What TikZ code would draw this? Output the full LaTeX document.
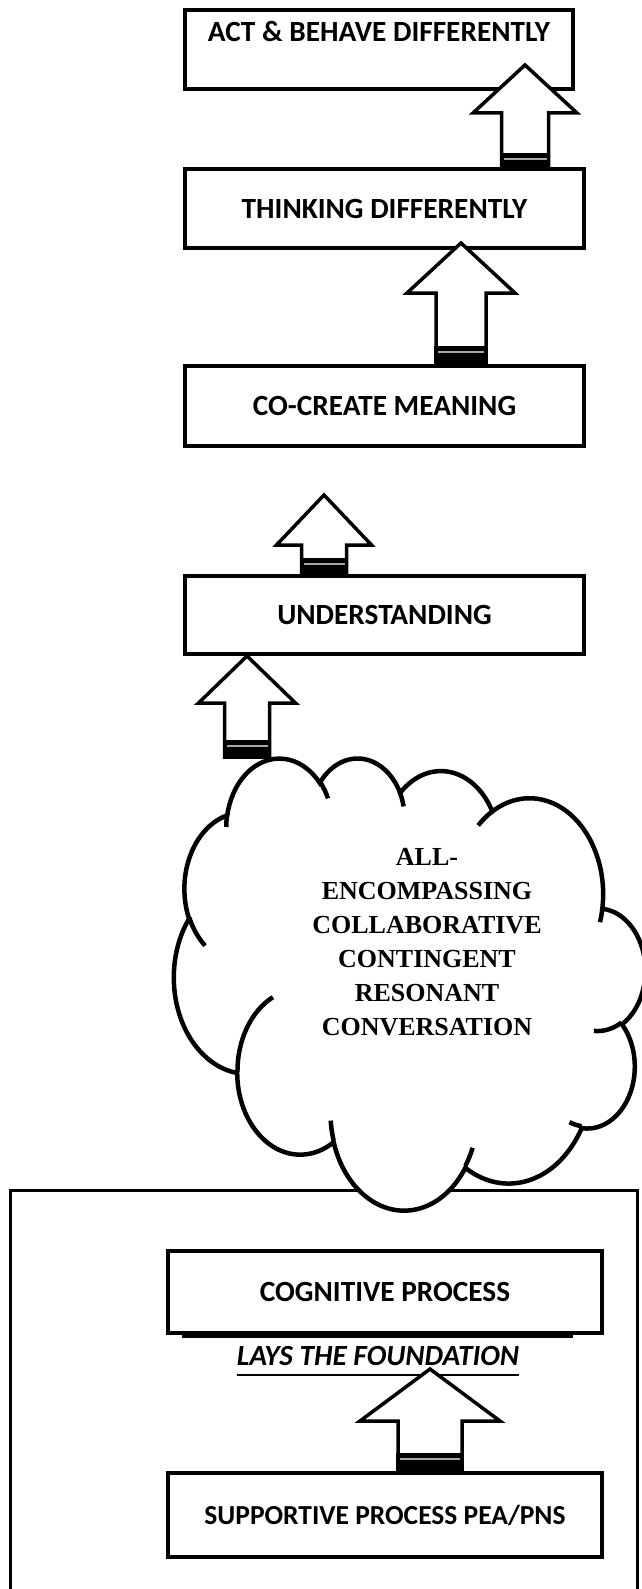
\documentclass[tikz,border=0pt]{standalone}
\usepackage{fontspec}
\usetikzlibrary{calc}
\newfontfamily\labelfont{Carlito}
\newfontfamily\cloudfont{Liberation Serif}

\tikzset{
  ink/.style={line width=3.5pt, line join=miter},
  stagebox/.style={draw, line width=3.2pt, fill=white, inner sep=0pt},
  stagetext/.style={font=\labelfont\bfseries\fontsize{29.3}{35}\selectfont, inner sep=0pt},
  smalltext/.style={font=\labelfont\bfseries\fontsize{27.5}{33}\selectfont, inner sep=0pt},
  cloudline/.style={line width=4.5pt, line cap=butt},
}

% one elliptical arc: radii, start angle and sweep given as angles seen from the centre
\newcommand\cloudarc[4]{let \n1={atan2((#1)*sin(#3),(#2)*cos(#3))},
  \n2={atan2((#1)*sin((#3)+(#4)),(#2)*cos((#3)+(#4)))},
  \n3={(\n2)-(\n1)-360*round(((\n2)-(\n1)-(#4))/360)}
  in arc[start angle=\n1, delta angle=\n3, x radius=#1, y radius=#2]}

% hollow up arrow: tip x, tip y, head base y, head half width, shaft half width, bar top y, bottom y
\newcommand\liftarrow[7]{%
  \draw[ink, fill=white] (#1,#2) -- ({#1+#4},#3) -- ({#1+#5},#3) -- ({#1+#5},#7)
    -- ({#1-#5},#7) -- ({#1-#5},#3) -- ({#1-#4},#3) -- cycle;
  \fill ({#1-#5-1.75},#6) rectangle ({#1+#5+1.75},{#7+1.75});
  \draw[line width=1.5pt, black!35] ({#1-#5+2},{#6+6}) -- ({#1+#5-2},{#6+6});
}

\begin{document}
\begin{tikzpicture}[x=1pt, y=-1pt]
\useasboundingbox (0,0) rectangle (642,1589);
\clip (0,0) rectangle (642,1589);

% stages
\node[stagebox, minimum width=388pt, minimum height=79pt] (act) at (379,49.5) {};
\node[stagetext] (actl) at (379,31) {ACT \& BEHAVE DIFFERENTLY};
\node[stagebox, stagetext, minimum width=399pt, minimum height=79pt] (think) at (384.5,208.5) {THINKING DIFFERENTLY};
\node[stagebox, stagetext, minimum width=399pt, minimum height=80pt] (mean) at (384.5,406) {CO-CREATE MEANING};
\node[stagebox, stagetext, minimum width=399pt, minimum height=78pt] (under) at (384.5,615) {UNDERSTANDING};

% arrows between stages
\liftarrow{525}{65}{113}{52}{23.5}{153}{169}
\liftarrow{461}{243}{293}{54}{25}{346}{366}
\liftarrow{324}{495}{545}{47.5}{22.5}{558}{576}
\liftarrow{247}{656}{703}{48.5}{22.5}{740}{757}

% foundation frame
\draw[line width=3pt] (10,1640) -- (10,1190) -- (637,1190) -- (637,1640);
\node[stagebox, stagetext, minimum width=434pt, minimum height=82pt] (cog) at (385,1292) {COGNITIVE PROCESS};
\draw[line width=3.2pt] (182,1336.5) -- (573,1336.5);
\node[stagetext, font=\labelfont\bfseries\itshape\fontsize{29.3}{35}\selectfont] (lays) at (378,1356) {LAYS THE FOUNDATION};
\draw[line width=2pt] ([yshift=-9pt]lays.base west) -- ([yshift=-9pt]lays.base east);
\node[stagebox, smalltext, minimum width=434pt, minimum height=84pt] (supp) at (385,1515) {SUPPORTIVE PROCESS PEA/PNS};
\liftarrow{430}{1369}{1421}{70}{32}{1453}{1473}

% conversation cloud
\begin{scope}[shift={(645pt,-757pt)}, x={(-10.9028pt,0pt)}, y={(0pt,-10.4630pt)}]
  \draw[cloudline, fill=white] (3.900,14.370)
    \cloudarc{6.753}{9.190}{-190.4875}{123.7805}
    \cloudarc{5.333}{7.267}{-144.1024}{89.9452}
    \cloudarc{4.365}{5.945}{-145.8079}{99.7230}
    \cloudarc{4.857}{6.595}{-130.9861}{117.2417}
    \cloudarc{5.333}{7.273}{-78.7089}{109.0269}
    \cloudarc{6.775}{9.220}{-46.2673}{130.2690}
    \cloudarc{5.785}{7.867}{0.6250}{114.0333}
    \cloudarc{6.752}{9.215}{22.4516}{115.1726}
    \cloudarc{7.720}{10.543}{66.2426}{75.7110}
    \cloudarc{4.360}{5.918}{-274.9421}{146.7356}
    \cloudarc{4.345}{5.945}{-246.8285}{152.5206}
    -- cycle;
  \draw[cloudline]
    (4.693,26.177) \cloudarc{4.345}{5.945}{86.7420}{26.4295}
    (6.928,34.899) \cloudarc{4.360}{5.918}{73.6105}{11.4475}
    (16.478,39.090) \cloudarc{6.752}{9.215}{137.6242}{14.0811}
    (28.827,34.751) \cloudarc{6.752}{9.215}{6.4533}{15.9984}
    (34.129,22.954) \cloudarc{5.785}{7.867}{-70.2924}{70.9174}
    (41.798,15.354) \cloudarc{5.333}{7.273}{30.3180}{27.7515}
    (38.324,5.426) \cloudarc{4.857}{6.595}{-13.7443}{14.8589}
    (29.078,3.952) \cloudarc{4.857}{6.595}{-149.1815}{18.1954}
    (22.141,4.720) \cloudarc{4.365}{5.945}{-163.4943}{17.6864}
    (14.000,5.192) \cloudarc{6.753}{9.190}{-66.7070}{12.3194}
    (4.127,15.789) \cloudarc{6.753}{9.190}{157.6544}{11.8582};
\end{scope}
\node[font=\cloudfont\bfseries\fontsize{26}{34}\selectfont, align=center, inner sep=0pt] (talk) at (427,942)
  {ALL-\\ENCOMPASSING\\COLLABORATIVE\\CONTINGENT\\RESONANT\\CONVERSATION};
\end{tikzpicture}
\end{document}
